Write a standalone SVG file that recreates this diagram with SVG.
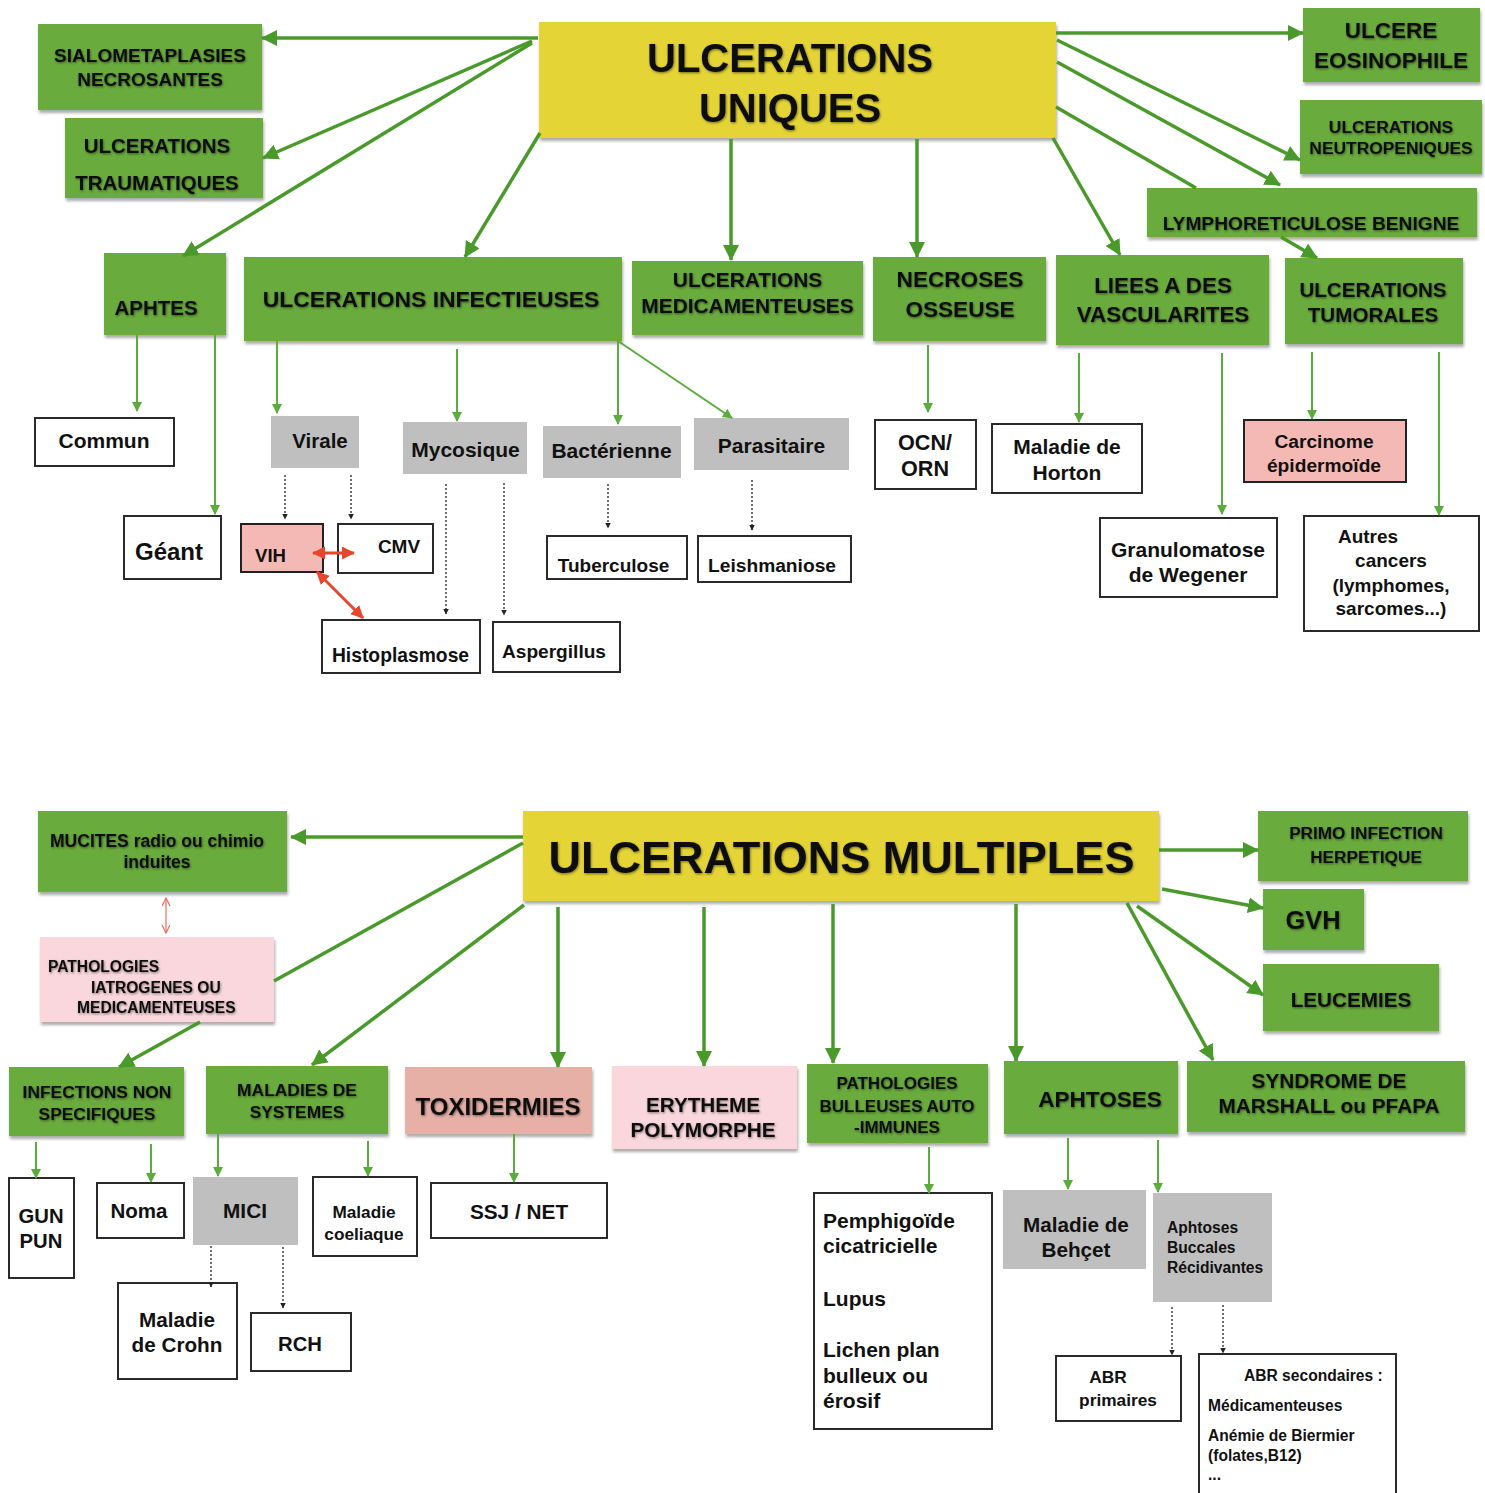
<svg xmlns="http://www.w3.org/2000/svg" width="1485" height="1493" viewBox="0 0 1485 1493">
<style>
.g{fill:#6bab3e;filter:url(#bs)}
.y{fill:#e4d434;filter:url(#bs)}
.gr{fill:#bfbfbf}
.pk{fill:#f4b9b4;stroke:#222;stroke-width:2}
.lp{fill:#f9d7dc;filter:url(#bs)}
.sa{fill:#e7b0a7;filter:url(#bs)}
.w{fill:#fff;stroke:#2a2a2a;stroke-width:2}
text{font-family:"Liberation Sans",Arial,Helvetica,sans-serif;font-weight:bold;fill:#111}
.c{text-anchor:middle}
.sh{filter:url(#ts)}
.a1{stroke:#4a9a2b;stroke-width:3.5;fill:none;marker-end:url(#ah1)}
.l1{stroke:#4a9a2b;stroke-width:3.5;fill:none}
.a2{stroke:#5aac3c;stroke-width:2;fill:none;marker-end:url(#ah2)}
.d{stroke:#222;stroke-width:1.3;stroke-dasharray:2 2;fill:none;marker-end:url(#ah3)}
.r{stroke:#e8452f;stroke-width:3;fill:none;marker-start:url(#ahr);marker-end:url(#ahr)}
.rc{stroke:#f06a62;stroke-width:1.2;fill:none;marker-start:url(#ahc);marker-end:url(#ahc)}
</style>
<defs>
<filter id="bs" x="-5%" y="-5%" width="115%" height="130%"><feDropShadow dx="1" dy="3" stdDeviation="1.5" flood-color="#000" flood-opacity="0.33"/></filter>
<filter id="ts" x="-5%" y="-20%" width="110%" height="150%"><feDropShadow dx="0.8" dy="1.2" stdDeviation="1" flood-color="#000" flood-opacity="0.45"/></filter>
<marker id="ah1" markerUnits="userSpaceOnUse" markerWidth="18" markerHeight="18" refX="15" refY="8" orient="auto"><path d="M0,0 L16,8 L0,16 z" fill="#4a9a2b"/></marker>
<marker id="ah2" markerUnits="userSpaceOnUse" markerWidth="12" markerHeight="12" refX="9" refY="5" orient="auto"><path d="M0,0 L10,5 L0,10 z" fill="#5aac3c"/></marker>
<marker id="ah3" markerUnits="userSpaceOnUse" markerWidth="8" markerHeight="8" refX="5.5" refY="3" orient="auto"><path d="M0,0 L6,3 L0,6 z" fill="#222"/></marker>
<marker id="ahr" markerUnits="userSpaceOnUse" markerWidth="15" markerHeight="15" refX="12" refY="6.5" orient="auto-start-reverse"><path d="M0,0 L13,6.5 L0,13 z" fill="#e8452f"/></marker>
<marker id="ahc" markerUnits="userSpaceOnUse" markerWidth="10" markerHeight="10" refX="8" refY="4" orient="auto-start-reverse"><path d="M0,0 L8,4 L0,8" fill="none" stroke="#f06a62" stroke-width="1.2"/></marker>
</defs>
<rect width="1485" height="1493" fill="#fff"/>

<!-- ===== TOP: ULCERATIONS UNIQUES ===== -->
<g id="n-uniques"><rect class="y" x="539" y="22" width="517" height="116"/><text class="c sh" x="790" y="72" font-size="40">ULCERATIONS</text><text class="c sh" x="790" y="122" font-size="40">UNIQUES</text></g>
<g id="n-sialo"><rect class="g" x="38" y="24" width="224" height="86"/><text class="c sh" x="150" y="62" font-size="19">SIALOMETAPLASIES</text><text class="c sh" x="150" y="86" font-size="19">NECROSANTES</text></g>
<g id="n-trauma"><rect class="g" x="65" y="118" width="198" height="80"/><text class="c sh" x="157" y="153" font-size="20.5">ULCERATIONS</text><text class="c sh" x="157" y="190" font-size="20.5">TRAUMATIQUES</text></g>
<g id="n-eosino"><rect class="g" x="1303" y="8" width="177" height="74"/><text class="c sh" x="1391" y="38" font-size="22.5">ULCERE</text><text class="c sh" x="1391" y="68" font-size="22.5">EOSINOPHILE</text></g>
<g id="n-neutro"><rect class="g" x="1300" y="100" width="182" height="74"/><text class="c sh" x="1391" y="133" font-size="17.4">ULCERATIONS</text><text class="c sh" x="1391" y="154" font-size="17.4">NEUTROPENIQUES</text></g>
<g id="n-aphtes"><rect class="g" x="104" y="253" width="122" height="82"/><text class="c sh" x="156" y="315" font-size="20.5">APHTES</text></g>
<g id="n-infect"><rect class="g" x="244" y="257" width="378" height="84"/><text class="c sh" x="431" y="307" font-size="22.9">ULCERATIONS INFECTIEUSES</text></g>
<g id="n-medic"><rect class="g" x="632" y="261" width="231" height="74"/><text class="c sh" x="747.5" y="287" font-size="20.9">ULCERATIONS</text><text class="c sh" x="747.5" y="313" font-size="20.9">MEDICAMENTEUSES</text></g>
<g id="n-necroses"><rect class="g" x="873" y="257" width="173" height="84"/><text class="c sh" x="960" y="287" font-size="22.6">NECROSES</text><text class="c sh" x="960" y="317" font-size="22.6">OSSEUSE</text></g>
<g id="n-liees"><rect class="g" x="1056" y="255" width="213" height="90"/><text class="c sh" x="1163" y="293" font-size="22.4">LIEES A DES</text><text class="c sh" x="1163" y="322" font-size="22.4">VASCULARITES</text></g>
<g id="n-tumorales"><rect class="g" x="1285" y="258" width="178" height="86"/><text class="c sh" x="1373" y="297" font-size="20.6">ULCERATIONS</text><text class="c sh" x="1373" y="322" font-size="20.6">TUMORALES</text></g>
<g id="n-lympho"><rect class="g" x="1147" y="188" width="330" height="49"/><text class="c sh" x="1311" y="230" font-size="19.2">LYMPHORETICULOSE BENIGNE</text></g>

<g id="n-commun"><rect class="w" x="35" y="418" width="139" height="48"/><text class="c" x="104" y="448" font-size="21">Commun</text></g>
<g id="n-geant"><rect class="w" x="124" y="516" width="97" height="63"/><text class="c" x="169" y="560" font-size="24">Géant</text></g>
<g id="n-virale"><rect class="gr" x="271" y="416" width="88" height="52"/><text class="c" x="320" y="448" font-size="20.5">Virale</text></g>
<g id="n-mycosique"><rect class="gr" x="403" y="422" width="124" height="52"/><text class="c" x="465.5" y="457" font-size="21">Mycosique</text></g>
<g id="n-bacterienne"><rect class="gr" x="543" y="426" width="138" height="52"/><text class="c" x="611.5" y="458" font-size="21">Bactérienne</text></g>
<g id="n-parasitaire"><rect class="gr" x="694" y="418" width="155" height="52"/><text class="c" x="771.5" y="453" font-size="21">Parasitaire</text></g>
<g id="n-vih"><rect class="pk" x="241" y="524" width="82" height="48"/><text x="255" y="562" font-size="18.6">VIH</text></g>
<g id="n-cmv"><rect class="w" x="338" y="524" width="95" height="49"/><text class="c" x="399" y="553" font-size="19">CMV</text></g>
<g id="n-histo"><rect class="w" x="322" y="620" width="158" height="53"/><text class="c" x="400.5" y="662" font-size="19.3">Histoplasmose</text></g>
<g id="n-asperg"><rect class="w" x="493" y="622" width="127" height="50"/><text class="c" x="554" y="658" font-size="19.1">Aspergillus</text></g>
<g id="n-tuber"><rect class="w" x="547" y="536" width="140" height="43"/><text class="c" x="613.5" y="572" font-size="19">Tuberculose</text></g>
<g id="n-leish"><rect class="w" x="698" y="536" width="153" height="46"/><text class="c" x="772" y="572" font-size="19.2">Leishmaniose</text></g>
<g id="n-ocn"><rect class="w" x="875" y="420" width="101" height="69"/><text class="c" x="925" y="450" font-size="21.6">OCN/</text><text class="c" x="925" y="476" font-size="21.6">ORN</text></g>
<g id="n-horton"><rect class="w" x="992" y="424" width="150" height="69"/><text class="c" x="1067" y="454" font-size="21">Maladie de</text><text class="c" x="1067" y="480" font-size="21">Horton</text></g>
<g id="n-wegener"><rect class="w" x="1100" y="518" width="177" height="79"/><text class="c" x="1188" y="557" font-size="21">Granulomatose</text><text class="c" x="1188" y="582" font-size="21">de Wegener</text></g>
<g id="n-carcinome"><rect class="pk" x="1244" y="420" width="162" height="62"/><text class="c" x="1324" y="448" font-size="19.2">Carcinome</text><text class="c" x="1324" y="472" font-size="19.2">épidermoïde</text></g>
<g id="n-autres"><rect class="w" x="1304" y="516" width="175" height="115"/><text class="c" x="1368" y="543" font-size="19">Autres</text><text class="c" x="1391" y="567" font-size="19">cancers</text><text class="c" x="1391" y="592" font-size="19">(lymphomes,</text><text class="c" x="1391" y="615" font-size="19">sarcomes...)</text></g>

<!-- ===== BOTTOM: ULCERATIONS MULTIPLES ===== -->
<g id="n-multiples"><rect class="y" x="523" y="811" width="636" height="90"/><text class="c sh" x="841.5" y="873" font-size="45">ULCERATIONS MULTIPLES</text></g>
<g id="n-mucites"><rect class="g" x="38" y="811" width="249" height="81"/><text class="c sh" x="157" y="847" font-size="17.5">MUCITES radio ou chimio</text><text class="c sh" x="157" y="868" font-size="17.5">induites</text></g>
<g id="n-patho-iatro"><rect class="lp" x="40" y="937" width="234" height="85"/><text class="sh" x="48" y="972" font-size="15.6">PATHOLOGIES</text><text class="sh" x="91" y="993" font-size="15.6">IATROGENES OU</text><text class="sh" x="77" y="1013" font-size="15.6">MEDICAMENTEUSES</text></g>
<g id="n-primo"><rect class="g" x="1258" y="811" width="210" height="70"/><text class="c sh" x="1366" y="839" font-size="17.2">PRIMO INFECTION</text><text class="c sh" x="1366" y="863" font-size="17.2">HERPETIQUE</text></g>
<g id="n-gvh"><rect class="g" x="1263" y="889" width="101" height="61"/><text class="c sh" x="1313" y="929" font-size="25.4">GVH</text></g>
<g id="n-leucemies"><rect class="g" x="1263" y="964" width="176" height="67"/><text class="c sh" x="1351" y="1007" font-size="20.7">LEUCEMIES</text></g>
<g id="n-infections"><rect class="g" x="9" y="1067" width="175" height="69"/><text class="c sh" x="97" y="1098" font-size="17.4">INFECTIONS NON</text><text class="c sh" x="97" y="1120" font-size="17.4">SPECIFIQUES</text></g>
<g id="n-maladies"><rect class="g" x="206" y="1066" width="182" height="68"/><text class="c sh" x="297" y="1096" font-size="17.4">MALADIES DE</text><text class="c sh" x="297" y="1118" font-size="17.4">SYSTEMES</text></g>
<g id="n-toxi"><rect class="sa" x="405" y="1067" width="187" height="67"/><text class="c sh" x="498" y="1115" font-size="24">TOXIDERMIES</text></g>
<g id="n-erytheme"><rect class="lp" x="612" y="1066" width="185" height="83"/><text class="c sh" x="703" y="1112" font-size="20.7">ERYTHEME</text><text class="c sh" x="703" y="1137" font-size="20.7">POLYMORPHE</text></g>
<g id="n-bulleuses"><rect class="g" x="807" y="1064" width="181" height="79"/><text class="c sh" x="897" y="1089" font-size="17">PATHOLOGIES</text><text class="c sh" x="897" y="1112" font-size="17">BULLEUSES AUTO</text><text class="c sh" x="897" y="1133" font-size="17">-IMMUNES</text></g>
<g id="n-aphtoses"><rect class="g" x="1004" y="1061" width="174" height="73"/><text class="c sh" x="1100" y="1107" font-size="22.5">APHTOSES</text></g>
<g id="n-syndrome"><rect class="g" x="1187" y="1061" width="278" height="71"/><text class="c sh" x="1329" y="1088" font-size="20.8">SYNDROME DE</text><text class="c sh" x="1329" y="1113" font-size="20.8">MARSHALL ou PFAPA</text></g>

<g id="n-gun"><rect class="w" x="9" y="1178" width="65" height="100"/><text class="c" x="41" y="1223" font-size="20.3">GUN</text><text class="c" x="41" y="1248" font-size="20.3">PUN</text></g>
<g id="n-noma"><rect class="w" x="97" y="1183" width="87" height="55"/><text class="c" x="139" y="1218" font-size="20.5">Noma</text></g>
<g id="n-mici"><rect class="gr" x="193" y="1177" width="105" height="68"/><text class="c" x="245" y="1218" font-size="20.8">MICI</text></g>
<g id="n-coeliaque"><rect class="w" x="313" y="1177" width="104" height="79"/><text class="c" x="364" y="1218" font-size="17.2">Maladie</text><text class="c" x="364" y="1240" font-size="17.2">coeliaque</text></g>
<g id="n-crohn"><rect class="w" x="118" y="1283" width="119" height="96"/><text class="c" x="177" y="1327" font-size="20.7">Maladie</text><text class="c" x="177" y="1352" font-size="20.7">de Crohn</text></g>
<g id="n-rch"><rect class="w" x="251" y="1313" width="100" height="58"/><text class="c" x="300" y="1351" font-size="20.3">RCH</text></g>
<g id="n-ssj"><rect class="w" x="431" y="1183" width="176" height="55"/><text class="c" x="519" y="1219" font-size="20.8">SSJ / NET</text></g>
<g id="n-pemph"><rect class="w" x="814" y="1193" width="178" height="236"/><text x="823" y="1228" font-size="21">Pemphigoïde</text><text x="823" y="1253" font-size="21">cicatricielle</text><text x="823" y="1306" font-size="21">Lupus</text><text x="823" y="1357" font-size="21">Lichen plan</text><text x="823" y="1383" font-size="21">bulleux ou</text><text x="823" y="1408" font-size="21">érosif</text></g>
<g id="n-behcet"><rect class="gr" x="1003" y="1190" width="143" height="79"/><text class="c" x="1076" y="1232" font-size="20.7">Maladie de</text><text class="c" x="1076" y="1257" font-size="20.7">Behçet</text></g>
<g id="n-abr"><rect class="gr" x="1153" y="1193" width="119" height="109"/><text x="1167" y="1233" font-size="15.6">Aphtoses</text><text x="1167" y="1253" font-size="15.6">Buccales</text><text x="1167" y="1273" font-size="15.6">Récidivantes</text></g>
<g id="n-abr-prim"><rect class="w" x="1056" y="1356" width="125" height="65"/><text class="c" x="1108" y="1383" font-size="17.3">ABR</text><text class="c" x="1118" y="1406" font-size="17.3">primaires</text></g>
<g id="n-abr-sec"><rect class="w" x="1199" y="1354" width="197" height="150"/><text x="1244" y="1381" font-size="15.6">ABR secondaires :</text><text x="1208" y="1411" font-size="15.6">Médicamenteuses</text><text x="1208" y="1441" font-size="15.6">Anémie de Biermier</text><text x="1208" y="1461" font-size="15.6">(folates,B12)</text><text x="1208" y="1480" font-size="15.6">...</text></g>

<!-- ===== CONNECTORS ===== -->
<g id="connectors">
<path class="a1" d="M538,38 L262,38"/>
<path class="a1" d="M532,41 L263,158"/>
<path class="a1" d="M532,43 L183,256"/>
<path class="a1" d="M540,133 L465,257"/>
<path class="a1" d="M731,139 L731,260"/>
<path class="a1" d="M917,139 L917,257"/>
<path class="a1" d="M1056,33 L1303,33"/>
<path class="a1" d="M1057,40 L1300,160"/>
<path class="a1" d="M1057,62 L1280,185"/>
<path class="l1" d="M1056,107 L1196,188"/>
<path class="a1" d="M1281,237 L1317,258"/>
<path class="a1" d="M1053,138 L1120,255"/>

<path class="a2" d="M137,335 L137,411"/>
<path class="a2" d="M215,335 L215,514"/>
<path class="a2" d="M277,341 L277,413"/>
<path class="a2" d="M457,349 L457,421"/>
<path class="a2" d="M618,341 L618,424"/>
<path class="a2" d="M618,341 L732,418"/>
<path class="a2" d="M928,345 L928,412"/>
<path class="a2" d="M1079,353 L1079,422"/>
<path class="a2" d="M1222,353 L1222,514"/>
<path class="a2" d="M1312,352 L1312,419"/>
<path class="a2" d="M1439,352 L1439,515"/>

<path class="d" d="M285,475 L285,519"/>
<path class="d" d="M351,475 L351,519"/>
<path class="d" d="M446,484 L446,614"/>
<path class="d" d="M504,483 L504,615"/>
<path class="d" d="M608,484 L608,528"/>
<path class="d" d="M752,480 L752,530"/>

<path class="r" d="M313,553 L354,553"/>
<path class="r" d="M317,572 L363,618"/>

<path class="a1" d="M523,837 L291,837"/>
<path class="l1" d="M523,843 L274,981"/>
<path class="a1" d="M200,1022 L119,1067"/>
<path class="a1" d="M524,905 L312,1065"/>
<path class="a1" d="M558,907 L558,1067"/>
<path class="a1" d="M704,907 L704,1066"/>
<path class="a1" d="M833,904 L833,1063"/>
<path class="a1" d="M1016,904 L1016,1061"/>
<path class="a1" d="M1159,850 L1258,850"/>
<path class="a1" d="M1162,889 L1263,908"/>
<path class="a1" d="M1137,906 L1263,995"/>
<path class="a1" d="M1127,903 L1213,1060"/>

<path class="rc" d="M166,898 L166,933"/>

<path class="a2" d="M36,1142 L36,1178"/>
<path class="a2" d="M151,1144 L151,1182"/>
<path class="a2" d="M218,1134 L218,1176"/>
<path class="a2" d="M368,1141 L368,1176"/>
<path class="a2" d="M514,1134 L514,1182"/>
<path class="a2" d="M929,1147 L929,1193"/>
<path class="a2" d="M1068,1138 L1068,1189"/>
<path class="a2" d="M1158,1140 L1158,1192"/>

<path class="d" d="M211,1246 L211,1287"/>
<path class="d" d="M283,1247 L283,1308"/>
<path class="d" d="M1172,1307 L1172,1355"/>
<path class="d" d="M1223,1305 L1223,1353"/>
</g>
</svg>
